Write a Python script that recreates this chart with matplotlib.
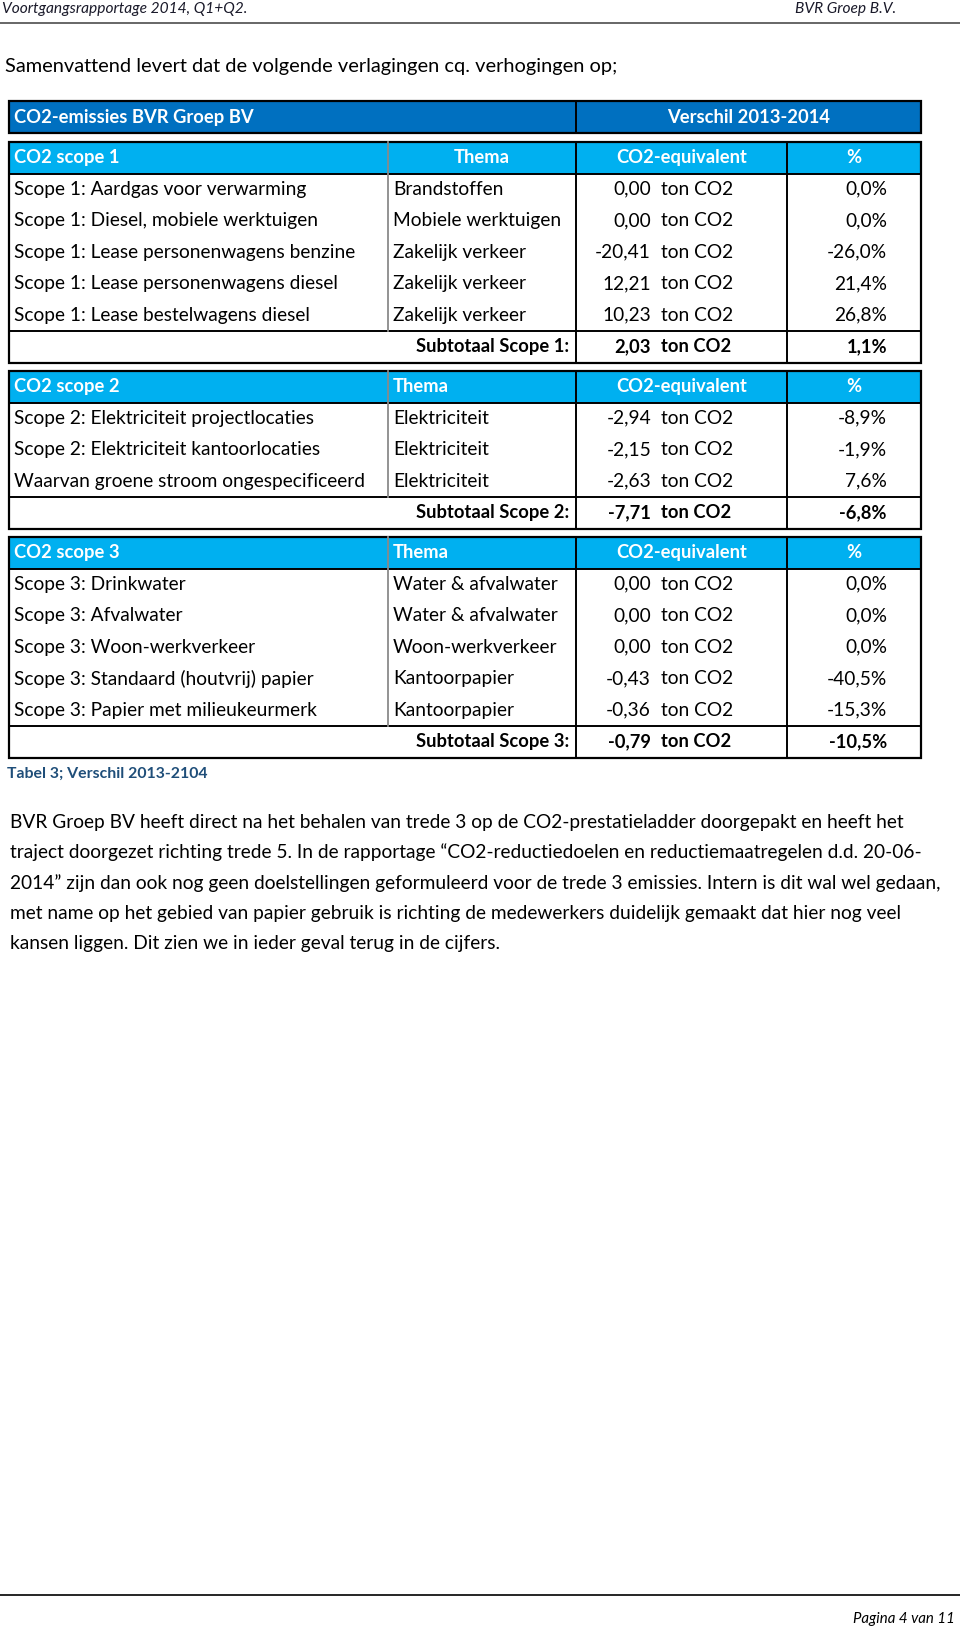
import matplotlib.pyplot as plt
from matplotlib.patches import Rectangle

plt.rcParams['font.family'] = ['Lato', 'DejaVu Sans']

# ---- data ----
scope1_labels = ['Scope 1: Aardgas voor verwarming', 'Scope 1: Diesel, mobiele werktuigen',
                 'Scope 1: Lease personenwagens benzine', 'Scope 1: Lease personenwagens diesel',
                 'Scope 1: Lease bestelwagens diesel']
scope1_themes = ['Brandstoffen', 'Mobiele werktuigen', 'Zakelijk verkeer', 'Zakelijk verkeer', 'Zakelijk verkeer']
scope1_values = [0.00, 0.00, -20.41, 12.21, 10.23]
scope1_pct = [0.0, 0.0, -26.0, 21.4, 26.8]
scope1_total = 2.03
scope1_total_pct = 1.1

scope2_labels = ['Scope 2: Elektriciteit projectlocaties', 'Scope 2: Elektriciteit kantoorlocaties',
                 'Waarvan groene stroom ongespecificeerd']
scope2_themes = ['Elektriciteit', 'Elektriciteit', 'Elektriciteit']
scope2_values = [-2.94, -2.15, -2.63]
scope2_pct = [-8.9, -1.9, 7.6]
scope2_total = -7.71
scope2_total_pct = -6.8

scope3_labels = ['Scope 3: Drinkwater', 'Scope 3: Afvalwater', 'Scope 3: Woon-werkverkeer',
                 'Scope 3: Standaard (houtvrij) papier', 'Scope 3: Papier met milieukeurmerk']
scope3_themes = ['Water & afvalwater', 'Water & afvalwater', 'Woon-werkverkeer', 'Kantoorpapier', 'Kantoorpapier']
scope3_values = [0.00, 0.00, 0.00, -0.43, -0.36]
scope3_pct = [0.0, 0.0, 0.0, -40.5, -15.3]
scope3_total = -0.79
scope3_total_pct = -10.5

paragraph = [
    'BVR Groep BV heeft direct na het behalen van trede 3 op de CO2-prestatieladder doorgepakt en heeft het',
    'traject doorgezet richting trede 5. In de rapportage \u201cCO2-reductiedoelen en reductiemaatregelen d.d. 20-06-',
    '2014\u201d zijn dan ook nog geen doelstellingen geformuleerd voor de trede 3 emissies. Intern is dit wal wel gedaan,',
    'met name op het gebied van papier gebruik is richting de medewerkers duidelijk gemaakt dat hier nog veel',
    'kansen liggen. Dit zien we in ieder geval terug in de cijfers.',
]

DARK = '#0070C0'
LIGHT = '#00B0F0'
X0, X1, XG, XC, XP = 9, 921, 388, 576, 787
ROW = 31.5
FS = 13.8   # table body
FH = 13.2   # white header text


def num(v):
    return '{:.2f}'.format(v).replace('.', ',')


def pct(v):
    return '{:.1f}%'.format(v).replace('.', ',')


fig = plt.figure(figsize=(9.6, 16.29), dpi=100)
ax = fig.add_axes([0, 0, 1, 1])
ax.set_xlim(0, 960)
ax.set_ylim(1629, 0)
ax.axis('off')

# page header / footer
ax.text(2, 9, 'Voortgangsrapportage 2014, Q1+Q2.', fontsize=11.2, style='italic',
        color='#1a1a2a', va='center', ha='left')
ax.text(896, 9, 'BVR Groep B.V.', fontsize=11.2, style='italic', color='#1a1a2a', va='center', ha='right')
ax.plot([0, 960], [23, 23], color='#5a5a5a', lw=1.3)
ax.plot([0, 960], [1595, 1595], color='black', lw=1.2)
ax.text(955, 1619, 'Pagina 4 van 11', fontsize=10.8, style='italic', va='center', ha='right')

ax.text(5, 66, 'Samenvattend levert dat de volgende verlagingen cq. verhogingen op;',
        fontsize=14.4, va='center', ha='left')

# top header
ax.add_patch(Rectangle((X0, 101), X1 - X0, 32, facecolor=DARK, edgecolor='black', lw=1.6))
ax.plot([XC, XC], [101, 133], color='black', lw=1.4)
ax.text(14, 117, 'CO2-emissies BVR Groep BV', color='white', fontweight='bold', fontsize=FH, va='center')
ax.text((XC + X1) / 2, 117, 'Verschil 2013-2014', color='white', fontweight='bold', fontsize=FH,
        va='center', ha='center')


def block(y0, n, labels, themes, values, pcts, total, total_pct, title, thema_centered):
    y_rows = y0 + ROW
    y_sub = y_rows + n * ROW
    y_end = y_sub + ROW
    ax.add_patch(Rectangle((X0, y0), X1 - X0, ROW, facecolor=LIGHT, edgecolor='none'))
    ax.add_patch(Rectangle((X0, y0), X1 - X0, y_end - y0, facecolor='none', edgecolor='black', lw=1.6))
    for yy in (y_rows, y_sub):
        ax.plot([X0, X1], [yy, yy], color='black', lw=1.4)
    ax.plot([XG, XG], [y0, y_sub], color='#8a8a8a', lw=1.3)
    for xx in (XC, XP):
        ax.plot([xx, xx], [y0, y_end], color='black', lw=1.4)
    yc = y0 + ROW / 2
    ax.text(14, yc, title, color='white', fontweight='bold', fontsize=FH, va='center')
    if thema_centered:
        ax.text((XG + XC) / 2, yc, 'Thema', color='white', fontweight='bold', fontsize=FH,
                va='center', ha='center')
    else:
        ax.text(XG + 5, yc, 'Thema', color='white', fontweight='bold', fontsize=FH, va='center')
    ax.text((XC + XP) / 2, yc, 'CO2-equivalent', color='white', fontweight='bold', fontsize=FH,
            va='center', ha='center')
    ax.text((XP + X1) / 2, yc, '%', color='white', fontweight='bold', fontsize=FH, va='center', ha='center')
    for i in range(n):
        yc = y_rows + ROW * (i + 0.5)
        ax.text(14, yc, labels[i], fontsize=FS, va='center')
        ax.text(XG + 5, yc, themes[i], fontsize=FS, va='center')
        ax.text(651, yc, num(values[i]), fontsize=FS, va='center', ha='right')
        ax.text(661, yc, 'ton CO2', fontsize=FS, va='center')
        ax.text(887, yc, pct(pcts[i]), fontsize=FS, va='center', ha='right')
    yc = y_sub + ROW / 2
    ax.text(569, yc, 'Subtotaal ' + title.replace('CO2 scope', 'Scope') + ':', fontsize=FH,
            fontweight='bold', va='center', ha='right')
    ax.text(651, yc, num(total), fontsize=FH, fontweight='bold', va='center', ha='right')
    ax.text(661, yc, 'ton CO2', fontsize=FH, fontweight='bold', va='center')
    ax.text(887, yc, pct(total_pct), fontsize=FH, fontweight='bold', va='center', ha='right')
    return y_end


y = block(142, len(scope1_labels), scope1_labels, scope1_themes, scope1_values, scope1_pct,
          scope1_total, scope1_total_pct, 'CO2 scope 1', True)
y = block(y + 8.5, len(scope2_labels), scope2_labels, scope2_themes, scope2_values, scope2_pct,
          scope2_total, scope2_total_pct, 'CO2 scope 2', False)
y = block(y + 8.5, len(scope3_labels), scope3_labels, scope3_themes, scope3_values, scope3_pct,
          scope3_total, scope3_total_pct, 'CO2 scope 3', False)

ax.text(7, 774, 'Tabel 3; Verschil 2013-2104', fontsize=11.4, fontweight='bold', color='#1F4E79', va='center')

for i, line in enumerate(paragraph):
    ax.text(10, 822 + i * 30.4, line, fontsize=13.75, va='center')

fig.savefig('out.png', dpi=100)
